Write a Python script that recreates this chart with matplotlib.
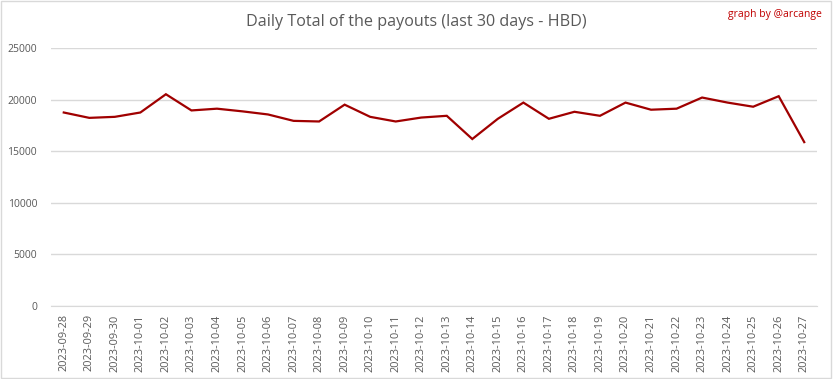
import matplotlib.pyplot as plt
import matplotlib.patches as patches

# data
dates = ['2023-09-28', '2023-09-29', '2023-09-30', '2023-10-01', '2023-10-02',
         '2023-10-03', '2023-10-04', '2023-10-05', '2023-10-06', '2023-10-07',
         '2023-10-08', '2023-10-09', '2023-10-10', '2023-10-11', '2023-10-12',
         '2023-10-13', '2023-10-14', '2023-10-15', '2023-10-16', '2023-10-17',
         '2023-10-18', '2023-10-19', '2023-10-20', '2023-10-21', '2023-10-22',
         '2023-10-23', '2023-10-24', '2023-10-25', '2023-10-26', '2023-10-27']
payouts = [18750, 18230, 18330, 18750, 20520,
           18950, 19120, 18860, 18560, 17940,
           17880, 19510, 18330, 17880, 18260,
           18430, 16180, 18140, 19710, 18140,
           18820, 18430, 19710, 19020, 19120,
           20200, 19710, 19310, 20330, 15880]
yticks = [0, 5000, 10000, 15000, 20000, 25000]

plt.rcParams['font.family'] = ['Open Sans', 'DejaVu Sans']

fig = plt.figure(figsize=(8.33, 3.79), dpi=100)
ax = fig.add_axes([51 / 833, 1 - 306 / 379, 766 / 833, 258 / 379])

x = list(range(len(dates)))
ax.plot(x, payouts, color='#a00000', linewidth=1.6, solid_joinstyle='miter')

ax.set_xlim(-0.5, len(dates) - 0.5)
ax.set_ylim(0, 25000)
ax.set_yticks(yticks)
ax.set_yticklabels([str(v) for v in yticks])
ax.set_xticks(x)
ax.set_xticklabels(dates, rotation=90)

ax.grid(axis='y', color='#d9d9d9', linewidth=1)
ax.set_axisbelow(True)
for s in ['top', 'right', 'left']:
    ax.spines[s].set_visible(False)
ax.spines['bottom'].set_color('#d9d9d9')
ax.tick_params(axis='both', length=0, labelsize=7.5, labelcolor='#595959')
ax.tick_params(axis='x', labelsize=7.9, pad=6)
ax.tick_params(axis='y', pad=10)

fig.text(416 / 833, 1 - 22 / 379, 'Daily Total of the payouts (last 30 days - HBD)',
         ha='center', va='center', fontsize=11.6, color='#595959')
fig.text(822 / 833, 1 - 15 / 379, 'graph by @arcange',
         ha='right', va='center', fontsize=7.5, color='#c00000')

# light frame round the whole figure
fig.patches.append(patches.Rectangle((0.001, 0.002), 0.997, 0.995, transform=fig.transFigure,
                                     fill=False, edgecolor='#d9d9d9', linewidth=1))

fig.savefig('out.png', dpi=100)
